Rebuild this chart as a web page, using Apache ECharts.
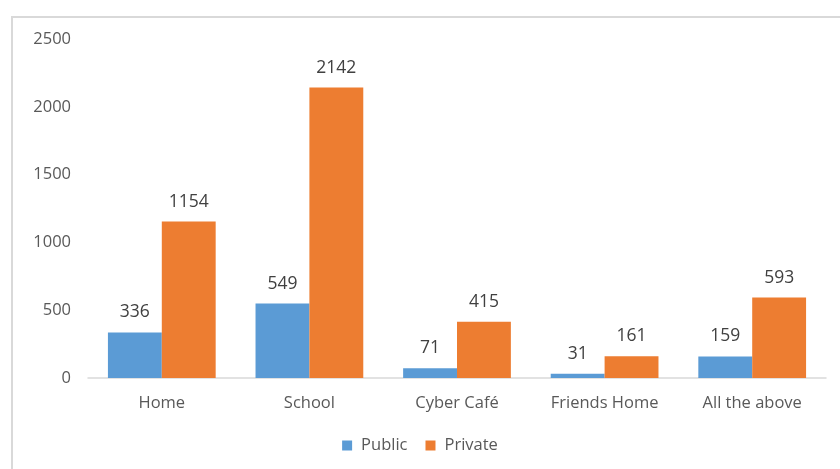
<!DOCTYPE html>
<html><head><meta charset="utf-8">
<script src="https://cdn.jsdelivr.net/npm/echarts@6/dist/echarts.min.js"></script>
<style>
html,body{margin:0;padding:0;background:#fff;overflow:hidden}
#frame{position:absolute;left:11px;top:16px;width:900px;height:500px;border:1px solid #d9d9d9;border-width:2px 0 0 2px;box-sizing:border-box}
#c{position:absolute;left:0;top:0;width:840px;height:469px}
</style></head>
<body><div id="frame"></div><div id="c"></div>
<script>
const categories = ['Home','School','Cyber Café','Friends Home','All the above'];
const publicVals = [336,549,71,31,159];
const privateVals = [1154,2142,415,161,593];
const seriesNames = ['Public','Private'];
const font = 'Open Sans';
const chart = echarts.init(document.getElementById('c'));
const lbl = {show:true,position:'top',distance:11,color:'#404040',fontSize:17.5,fontFamily:font};
chart.setOption({
  animation:false,
  grid:{left:88,right:14,top:39,bottom:91},
  legend:{data:seriesNames,bottom:10,left:'center',itemWidth:10,itemHeight:10,itemGap:18,icon:'rect',
    textStyle:{color:'#595959',fontSize:16.5,fontFamily:font,padding:[0,0,0,4]}},
  xAxis:{type:'category',data:categories,axisTick:{show:false},
    axisLine:{lineStyle:{color:'#d9d9d9',width:1.5}},
    axisLabel:{color:'#595959',fontSize:16.5,fontFamily:font,margin:17}},
  yAxis:{type:'value',min:0,max:2500,interval:500,splitLine:{show:false},
    axisLine:{show:false},axisTick:{show:false},
    axisLabel:{color:'#595959',fontSize:16.5,fontFamily:font,margin:17,formatter:v=>String(v)}},
  series:[
    {name:seriesNames[0],type:'bar',data:publicVals,barGap:'0%',barCategoryGap:'27%',
     itemStyle:{color:'#5B9BD5'},label:lbl},
    {name:seriesNames[1],type:'bar',data:privateVals,barGap:'0%',barCategoryGap:'27%',
     itemStyle:{color:'#ED7D31'},label:lbl}
  ]
});
</script></body></html>
